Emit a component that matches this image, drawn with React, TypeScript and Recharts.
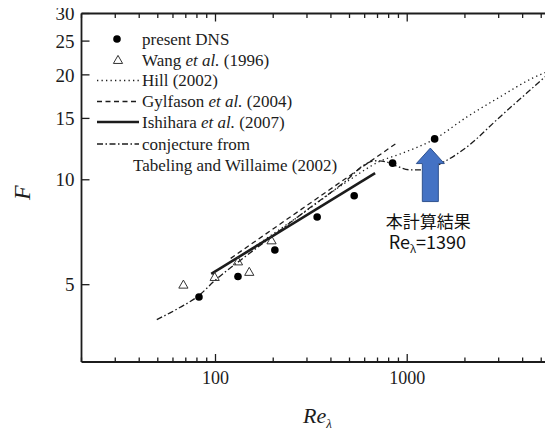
import React from 'react';
import { ComposedChart, XAxis, YAxis, Line, Scatter, Legend, ReferenceDot } from 'recharts';

// ---- data ----
const dnsRe = [82, 131, 204, 339, 529, 839, 1390];
const dnsF = [4.61, 5.28, 6.29, 7.82, 9.0, 11.16, 13.1];

const wangRe = [68, 99, 131, 150, 196];
const wangF = [5.0, 5.26, 5.83, 5.44, 6.7];

const hillRe = [130, 275, 502, 720, 916, 1395, 2050, 3046, 4530, 6000];
const hillF = [5.95, 7.9, 10.0, 11.3, 11.85, 13.11, 15.15, 17.29, 19.6, 20.9];

const gylfasonRe = [120, 880];
const gylfasonF = [5.95, 12.74];

const ishiharaRe = [95, 680];
const ishiharaF = [5.37, 10.45];

const conjRe = [49.4, 65.1, 81.8, 99.2, 133.9, 196.7, 310.5, 473, 609, 686, 774, 873, 1033, 1208, 1592, 2050, 3046, 4215, 5557, 6000];
const conjF = [3.97, 4.3, 4.65, 5.14, 5.86, 6.87, 8.31, 9.87, 11.11, 11.34, 11.26, 10.97, 10.68, 10.68, 11.34, 12.43, 15.15, 17.76, 20.26, 20.9];

const xTicks = [20, 30, 40, 50, 60, 70, 80, 90, 100, 200, 300, 400, 500, 600, 700, 800, 900, 1000, 2000, 3000, 4000, 5000];
const xLabelTicks = [100, 1000];
const yTicks = [5, 10, 15, 20, 25, 30];
const xDomain = [20, 6000];
const yDomain = [3, 30];

const arrowRe = 1320;
const arrowF = 12.33;
const noteLine1 = '本計算結果';
const noteValue = '=1390';

const toPts = (xs: number[], ys: number[]) => xs.map((x, i) => ({ x, y: ys[i] }));

const dnsData = toPts(dnsRe, dnsF);
const wangData = toPts(wangRe, wangF);
const hillData = toPts(hillRe, hillF);
const gylData = toPts(gylfasonRe, gylfasonF);
const ishData = toPts(ishiharaRe, ishiharaF);
const conjData = toPts(conjRe, conjF);

const SERIF = "'Liberation Serif', 'Times New Roman', serif";
const INK = '#1c1c1c';
const AXIS_W = 1.8;

const HILL_DASH = '1.3 3.2';
const GYL_DASH = '5 3.5';
const CONJ_DASH = '6 2.5 1.5 2.5';

const BottomTick = (props: any) => {
  const { x, y, payload } = props;
  const v = payload.value;
  const major = xLabelTicks.includes(v);
  return (
    <g>
      <line x1={x} x2={x} y1={y} y2={y - (major ? 8 : 4.5)} stroke={INK} strokeWidth={1.3} />
      {major && (
        <text x={x} y={y + 22} textAnchor="middle" fontFamily={SERIF} fontSize={18} fill={INK}>
          {v}
        </text>
      )}
    </g>
  );
};

const TopTick = (props: any) => {
  const { x, y, payload } = props;
  const major = xLabelTicks.includes(payload.value);
  return <line x1={x} x2={x} y1={y} y2={y + (major ? 8 : 4.5)} stroke={INK} strokeWidth={1.3} />;
};

const LeftTick = (props: any) => {
  const { x, y, payload } = props;
  return (
    <g>
      <line x1={x} x2={x + 8} y1={y} y2={y} stroke={INK} strokeWidth={1.3} />
      <text x={x - 7} y={y} dy="0.35em" textAnchor="end" fontFamily={SERIF} fontSize={19} fill={INK}>
        {payload.value}
      </text>
    </g>
  );
};

const RightTick = (props: any) => {
  const { x, y } = props;
  return <line x1={x} x2={x - 8} y1={y} y2={y} stroke={INK} strokeWidth={1.3} />;
};

const Dot = (props: any) => {
  const { cx, cy } = props;
  return <circle cx={cx} cy={cy} r={3.8} fill="#000" />;
};

const Tri = (props: any) => {
  const { cx, cy } = props;
  const s = 4.6;
  return (
    <polygon
      points={`${cx},${cy - s} ${cx + s},${cy + s * 0.75} ${cx - s},${cy + s * 0.75}`}
      fill="none"
      stroke="#333"
      strokeWidth={1}
    />
  );
};

const ArrowNote = (props: any) => {
  const { cx, cy } = props;
  const pts = [
    [0, 0],
    [14, 15.5],
    [8, 15.5],
    [8, 53.5],
    [-8, 53.5],
    [-8, 15.5],
    [-14, 15.5],
  ]
    .map(([dx, dy]) => `${cx + dx},${cy + dy}`)
    .join(' ');
  const font = "'Noto Sans CJK JP', 'Noto Sans', sans-serif";
  return (
    <g>
      <polygon points={pts} fill="#4472C4" stroke="#2F528F" strokeWidth={1} />
      <text x={cx - 2} y={cy + 80} textAnchor="middle" fontFamily={font} fontSize={17} fill="#111">
        {noteLine1}
      </text>
      <text x={cx - 3} y={cy + 101} textAnchor="middle" fontFamily={font} fontSize={18} fill="#111">
        {'Re'}
        <tspan fontSize={11} dy={4}>
          λ
        </tspan>
        <tspan dy={-4}>{noteValue}</tspan>
      </text>
    </g>
  );
};

const LegendBox = () => {
  const rows = [11, 32, 52.5, 73.5, 94, 116];
  const lx1 = 7;
  const lx2 = 49;
  const tx = 52;
  const fs = 17;
  const base = 5.5;
  return (
    <svg width={300} height={150} style={{ overflow: 'visible', display: 'block' }}>
      <g fontFamily={SERIF} fontSize={fs} fill={INK}>
        <circle cx={27} cy={rows[0]} r={3.8} fill="#000" />
        <text x={tx} y={rows[0] + base}>present DNS</text>

        <polygon
          points={`28,${rows[1] - 4.6} ${28 + 4.6},${rows[1] + 3.45} ${28 - 4.6},${rows[1] + 3.45}`}
          fill="none"
          stroke="#333"
          strokeWidth={1}
        />
        <text x={tx} y={rows[1] + base}>
          Wang <tspan fontStyle="italic">et al.</tspan> (1996)
        </text>

        <line x1={lx1} x2={lx2} y1={rows[2]} y2={rows[2]} stroke={INK} strokeWidth={1.3} strokeDasharray={HILL_DASH} />
        <text x={tx} y={rows[2] + base}>Hill (2002)</text>

        <line x1={lx1} x2={lx2} y1={rows[3]} y2={rows[3]} stroke={INK} strokeWidth={1.3} strokeDasharray={GYL_DASH} />
        <text x={tx} y={rows[3] + base}>
          Gylfason <tspan fontStyle="italic">et al.</tspan> (2004)
        </text>

        <line x1={lx1} x2={lx2} y1={rows[4]} y2={rows[4]} stroke={INK} strokeWidth={2.6} />
        <text x={tx} y={rows[4] + base}>
          Ishihara <tspan fontStyle="italic">et al.</tspan> (2007)
        </text>

        <line x1={lx1} x2={lx2} y1={rows[5]} y2={rows[5]} stroke={INK} strokeWidth={1.3} strokeDasharray={CONJ_DASH} />
        <text x={tx} y={rows[5] + base}>conjecture from</text>
        <text x={43} y={137.5 + base}>Tabeling and Willaime (2002)</text>
      </g>
    </svg>
  );
};

const XTitle = (props: any) => {
  const vb = props.viewBox || { x: 80.5, y: 362, width: 475 };
  const cx = vb.x + vb.width / 2;
  return (
    <text x={cx - 16} y={vb.y + 61} fontFamily={SERIF} fontSize={22} fontStyle="italic" fill={INK}>
      Re
      <tspan fontSize={13} dy={5}>
        λ
      </tspan>
    </text>
  );
};

const YTitle = (props: any) => {
  const vb = props.viewBox || { x: 80.5, y: 12.5, width: 1, height: 348.5 };
  const x = vb.x + (vb.width || 0) - 60;
  const y = vb.y + vb.height / 2 + 5;
  return (
    <text
      x={x}
      y={y}
      transform={`rotate(-90, ${x}, ${y})`}
      textAnchor="middle"
      dy="0.35em"
      fontFamily={SERIF}
      fontSize={24}
      fontStyle="italic"
      fill={INK}
    >
      F
    </text>
  );
};

export default function App() {
  return (
    <div style={{ margin: '-8px 0 0 -8px', width: 553, height: 430, overflow: 'hidden', position: 'relative' }}>
      <ComposedChart width={568} height={430} margin={{ top: 12.5, right: 10.6, bottom: 67, left: 80.5 }}>
        <XAxis
          xAxisId="bottom"
          dataKey="x"
          type="number"
          scale="log"
          domain={xDomain}
          allowDataOverflow
          ticks={xTicks}
          interval={0}
          height={1}
          tickSize={0}
          tickMargin={0}
          tickLine={false}
          tick={<BottomTick />}
          axisLine={{ stroke: INK, strokeWidth: AXIS_W }}
          label={<XTitle />}
        />
        <XAxis
          xAxisId="top"
          orientation="top"
          dataKey="x"
          type="number"
          scale="log"
          domain={xDomain}
          allowDataOverflow
          ticks={xTicks}
          interval={0}
          height={1}
          tickSize={0}
          tickMargin={0}
          tickLine={false}
          tick={<TopTick />}
          axisLine={{ stroke: INK, strokeWidth: AXIS_W }}
        />
        <YAxis
          yAxisId="left"
          type="number"
          scale="log"
          domain={yDomain}
          allowDataOverflow
          ticks={yTicks}
          interval={0}
          width={1}
          tickSize={0}
          tickMargin={0}
          tickLine={false}
          tick={<LeftTick />}
          axisLine={{ stroke: INK, strokeWidth: AXIS_W }}
          label={<YTitle />}
        />
        <YAxis
          yAxisId="right"
          orientation="right"
          type="number"
          scale="log"
          domain={yDomain}
          allowDataOverflow
          ticks={yTicks}
          interval={0}
          width={1}
          tickSize={0}
          tickMargin={0}
          tickLine={false}
          tick={<RightTick />}
          axisLine={{ stroke: INK, strokeWidth: AXIS_W }}
        />

        <Line
          xAxisId="bottom"
          yAxisId="left"
          data={conjData}
          dataKey="y"
          type="monotone"
          stroke={INK}
          strokeWidth={1.3}
          strokeDasharray={CONJ_DASH}
          dot={false}
          activeDot={false}
          isAnimationActive={false}
        />
        <Line
          xAxisId="bottom"
          yAxisId="left"
          data={hillData}
          dataKey="y"
          type="monotone"
          stroke={INK}
          strokeWidth={1.3}
          strokeDasharray={HILL_DASH}
          dot={false}
          activeDot={false}
          isAnimationActive={false}
        />
        <Line
          xAxisId="bottom"
          yAxisId="left"
          data={gylData}
          dataKey="y"
          type="linear"
          stroke={INK}
          strokeWidth={1.3}
          strokeDasharray={GYL_DASH}
          dot={false}
          activeDot={false}
          isAnimationActive={false}
        />
        <Line
          xAxisId="bottom"
          yAxisId="left"
          data={ishData}
          dataKey="y"
          type="linear"
          stroke={INK}
          strokeWidth={2.6}
          dot={false}
          activeDot={false}
          isAnimationActive={false}
        />
        <Scatter
          xAxisId="bottom"
          yAxisId="left"
          data={wangData}
          dataKey="y"
          shape={<Tri />}
          isAnimationActive={false}
        />
        <Scatter
          xAxisId="bottom"
          yAxisId="left"
          data={dnsData}
          dataKey="y"
          shape={<Dot />}
          isAnimationActive={false}
        />
        <ReferenceDot
          xAxisId="bottom"
          yAxisId="left"
          x={arrowRe}
          y={arrowF}
          shape={<ArrowNote />}
        />
        <Legend
          layout="vertical"
          align="center"
          verticalAlign="middle"
          wrapperStyle={{ left: 90, top: 28, width: 300, height: 150 }}
          content={() => <LegendBox />}
        />
      </ComposedChart>
    </div>
  );
}
